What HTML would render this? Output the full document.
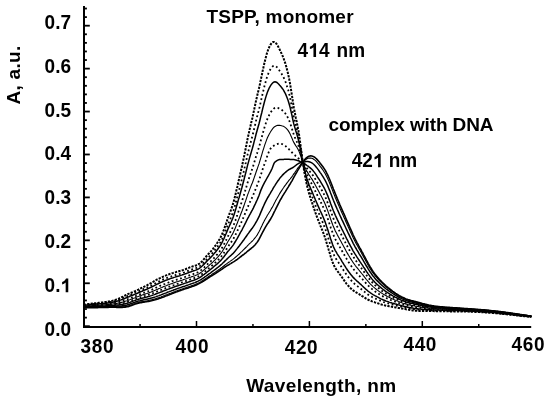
<!DOCTYPE html>
<html><head><meta charset="utf-8"><style>
html,body{margin:0;padding:0;background:#fff;}
body{width:550px;height:401px;overflow:hidden;position:relative;}
svg{position:absolute;left:0;top:0;filter:grayscale(1);}
text{font-family:"Liberation Sans",sans-serif;font-weight:bold;font-size:19px;fill:#000;}
</style></head><body>
<svg width="550" height="401" viewBox="0 0 550 401">
<g fill="#000">
<rect x="83" y="6" width="2" height="322"/>
<rect x="83" y="326" width="448.2" height="2"/>
<rect x="85" y="325.30" width="4.8" height="1.8"/><rect x="85" y="316.71" width="1.9" height="1.8"/><rect x="85" y="308.13" width="1.9" height="1.8"/><rect x="85" y="299.54" width="1.9" height="1.8"/><rect x="85" y="290.96" width="1.9" height="1.8"/><rect x="85" y="282.37" width="4.8" height="1.8"/><rect x="85" y="273.78" width="1.9" height="1.8"/><rect x="85" y="265.20" width="1.9" height="1.8"/><rect x="85" y="256.61" width="1.9" height="1.8"/><rect x="85" y="248.03" width="1.9" height="1.8"/><rect x="85" y="239.44" width="4.8" height="1.8"/><rect x="85" y="230.85" width="1.9" height="1.8"/><rect x="85" y="222.27" width="1.9" height="1.8"/><rect x="85" y="213.68" width="1.9" height="1.8"/><rect x="85" y="205.10" width="1.9" height="1.8"/><rect x="85" y="196.51" width="4.8" height="1.8"/><rect x="85" y="187.92" width="1.9" height="1.8"/><rect x="85" y="179.34" width="1.9" height="1.8"/><rect x="85" y="170.75" width="1.9" height="1.8"/><rect x="85" y="162.17" width="1.9" height="1.8"/><rect x="85" y="153.58" width="4.8" height="1.8"/><rect x="85" y="144.99" width="1.9" height="1.8"/><rect x="85" y="136.41" width="1.9" height="1.8"/><rect x="85" y="127.82" width="1.9" height="1.8"/><rect x="85" y="119.24" width="1.9" height="1.8"/><rect x="85" y="110.65" width="4.8" height="1.8"/><rect x="85" y="102.06" width="1.9" height="1.8"/><rect x="85" y="93.48" width="1.9" height="1.8"/><rect x="85" y="84.89" width="1.9" height="1.8"/><rect x="85" y="76.31" width="1.9" height="1.8"/><rect x="85" y="67.72" width="4.8" height="1.8"/><rect x="85" y="59.13" width="1.9" height="1.8"/><rect x="85" y="50.55" width="1.9" height="1.8"/><rect x="85" y="41.96" width="1.9" height="1.8"/><rect x="85" y="33.38" width="1.9" height="1.8"/><rect x="85" y="24.79" width="4.8" height="1.8"/><rect x="85" y="16.20" width="1.9" height="1.8"/><rect x="85" y="7.62" width="1.9" height="1.8"/><rect x="139.30" y="324" width="1.5" height="2"/><rect x="195.75" y="321" width="1.5" height="5"/><rect x="252.20" y="324" width="1.5" height="2"/><rect x="308.65" y="321" width="1.5" height="5"/><rect x="365.10" y="324" width="1.5" height="2"/><rect x="421.55" y="321" width="1.5" height="5"/><rect x="478.00" y="324" width="1.5" height="2"/>
</g>
<g>
<polyline points="83.6,304.7 84.5,304.6 85.5,304.5 86.4,304.4 87.4,304.2 88.3,304.1 89.3,304.0 90.2,303.9 91.1,303.8 92.1,303.6 93.0,303.5 94.0,303.4 94.9,303.3 95.9,303.2 96.8,303.0 97.7,302.9 98.7,302.8 99.6,302.7 100.6,302.6 101.5,302.5 102.5,302.4 103.4,302.3 104.3,302.1 105.3,302.0 106.2,301.9 107.2,301.8 108.1,301.6 109.1,301.4 110.0,301.3 110.9,301.1 111.9,300.9 112.8,300.6 113.8,300.4 114.7,300.1 115.7,299.8 116.6,299.4 117.5,299.1 118.5,298.7 119.4,298.3 120.4,297.9 121.3,297.4 122.3,297.0 123.2,296.5 124.1,296.0 125.1,295.5 126.0,295.0 127.0,294.6 127.9,294.1 128.9,293.7 129.8,293.3 130.7,292.9 131.7,292.5 132.6,292.2 133.6,291.8 134.5,291.4 135.5,291.0 136.4,290.6 137.3,290.1 138.3,289.7 139.2,289.2 140.2,288.7 141.1,288.2 142.1,287.7 143.0,287.3 143.9,286.8 144.9,286.3 145.8,285.9 146.8,285.4 147.7,284.9 148.7,284.4 149.6,283.9 150.5,283.3 151.5,282.8 152.4,282.2 153.4,281.7 154.3,281.1 155.3,280.6 156.2,280.0 157.1,279.5 158.1,279.0 159.0,278.6 160.0,278.1 160.9,277.6 161.9,277.2 162.8,276.8 163.7,276.4 164.7,276.0 165.6,275.6 166.6,275.2 167.5,274.8 168.5,274.5 169.4,274.1 170.3,273.8 171.3,273.5 172.2,273.2 173.2,272.9 174.1,272.6 175.1,272.4 176.0,272.1 176.9,271.8 177.9,271.6 178.8,271.3 179.8,271.0 180.7,270.8 181.7,270.5 182.6,270.2 183.5,269.9 184.5,269.5 185.4,269.2 186.4,268.8 187.3,268.5 188.3,268.1 189.2,267.7 190.1,267.3 191.1,267.0 192.0,266.6 193.0,266.3 193.9,266.1 194.9,265.8 195.8,265.5 196.7,265.1 197.7,264.7 198.6,264.1 199.6,263.5 200.5,262.8 201.4,261.9 202.4,260.9 203.3,259.8 204.3,258.7 205.2,257.6 206.2,256.5 207.1,255.5 208.0,254.5 209.0,253.4 209.9,252.4 210.9,251.3 211.8,250.2 212.8,249.1 213.7,247.9 214.6,246.6 215.6,245.3 216.5,243.9 217.5,242.5 218.4,241.1 219.4,239.6 220.3,237.9 221.2,236.1 222.2,234.0 223.1,231.7 224.1,229.2 225.0,226.5 226.0,223.8 226.9,221.0 227.8,218.3 228.8,215.7 229.7,213.2 230.7,210.7 231.6,208.1 232.6,205.3 233.5,202.2 234.4,198.8 235.4,195.0 236.3,190.8 237.3,186.7 238.2,182.5 239.2,178.5 240.1,174.5 241.0,170.5 242.0,166.3 242.9,161.9 243.9,157.4 244.8,152.7 245.8,148.0 246.7,143.3 247.6,138.6 248.6,134.3 249.5,130.0 250.5,125.9 251.4,121.9 252.4,117.9 253.3,113.7 254.2,109.4 255.2,104.8 256.1,100.4 257.1,96.2 258.0,92.3 259.0,88.3 259.9,84.2 260.8,79.7 261.8,75.2 262.7,70.7 263.7,66.3 264.6,62.1 265.6,58.3 266.5,54.8 267.4,51.8 268.4,49.1 269.3,46.9 270.3,45.1 271.2,43.7 272.2,42.6 273.1,42.0 274.0,41.9 275.0,42.3 275.9,43.1 276.9,44.4 277.8,45.9 278.8,47.7 279.7,49.6 280.6,51.6 281.6,53.6 282.5,55.7 283.5,58.1 284.4,60.7 285.4,63.6 286.3,66.8 287.2,70.3 288.2,74.2 289.1,78.6 290.1,83.8 291.0,89.6 292.0,95.7 292.9,101.8 293.8,107.4 294.8,112.5 295.7,117.2 296.7,121.7 297.6,126.5 298.6,131.7 299.5,137.6 300.4,144.3 301.4,151.6 302.3,158.8 303.3,165.4 304.2,171.3 305.2,176.6 306.1,181.3 307.0,185.6 308.0,189.4 308.9,192.9 309.9,196.1 310.8,199.1 311.8,201.9 312.7,204.7 313.6,207.4 314.6,210.2 315.5,212.9 316.5,215.6 317.4,218.1 318.4,220.6 319.3,222.9 320.2,225.3 321.2,227.6 322.1,229.9 323.1,232.3 324.0,234.9 325.0,237.5 325.9,240.4 326.8,243.5 327.8,246.6 328.7,249.8 329.7,253.0 330.6,256.2 331.6,259.2 332.5,261.9 333.4,264.3 334.4,266.3 335.3,268.0 336.3,269.5 337.2,270.8 338.2,272.0 339.1,273.2 340.0,274.5 341.0,275.8 341.9,277.2 342.9,278.6 343.8,279.9 344.8,281.3 345.7,282.6 346.6,283.8 347.6,284.9 348.5,286.0 349.5,287.0 350.4,288.0 351.4,288.9 352.3,289.7 353.2,290.4 354.2,291.1 355.1,291.7 356.1,292.3 357.0,292.9 358.0,293.5 358.9,294.0 359.8,294.6 360.8,295.2 361.7,295.8 362.7,296.4 363.6,297.0 364.6,297.6 365.5,298.2 366.4,298.8 367.4,299.3 368.3,299.8 369.3,300.2 370.2,300.6 371.2,301.0 372.1,301.4 373.0,301.7 374.0,302.0 374.9,302.4 375.9,302.7 376.8,303.0 377.8,303.3 378.7,303.6 379.6,303.9 380.6,304.2 381.5,304.5 382.5,304.8 383.4,305.0 384.4,305.3 385.3,305.5 386.2,305.7 387.2,305.9 388.1,306.1 389.1,306.3 390.0,306.4 391.0,306.6 391.9,306.7 392.8,306.9 393.8,307.1 394.7,307.2 395.7,307.4 396.6,307.6 397.6,307.7 398.5,307.9 399.4,308.1 400.4,308.2 401.3,308.4 402.3,308.6 403.2,308.7 404.2,308.9 405.1,309.1 406.0,309.3 407.0,309.4 407.9,309.6 408.9,309.8 409.8,309.9 410.8,310.1 411.7,310.2 412.6,310.4 413.6,310.5 414.5,310.6 415.5,310.7 416.4,310.8 417.4,310.8 418.3,310.9 419.2,311.0 420.2,311.0 421.1,311.0 422.1,311.0 423.0,311.1 423.9,311.1 424.9,311.1 425.8,311.1 426.8,311.1 427.7,311.1 428.7,311.1 429.6,311.1 430.5,311.1 431.5,311.1 432.4,311.1 433.4,311.1 434.3,311.2 435.3,311.2 436.2,311.2 437.1,311.2 438.1,311.2 439.0,311.2 440.0,311.2 440.9,311.2 441.9,311.3 442.8,311.3 443.7,311.3 444.7,311.3 445.6,311.3 446.6,311.3 447.5,311.3 448.5,311.3 449.4,311.4 450.3,311.4 451.3,311.4 452.2,311.4 453.2,311.4 454.1,311.4 455.1,311.4 456.0,311.4 456.9,311.4 457.9,311.4 458.8,311.5 459.8,311.5 460.7,311.5 461.7,311.5 462.6,311.5 463.5,311.5 464.5,311.6 465.4,311.6 466.4,311.6 467.3,311.6 468.3,311.6 469.2,311.7 470.1,311.7 471.1,311.7 472.0,311.8 473.0,311.8 473.9,311.8 474.9,311.9 475.8,311.9 476.7,312.0 477.7,312.0 478.6,312.1 479.6,312.1 480.5,312.2 481.5,312.2 482.4,312.3 483.3,312.3 484.3,312.4 485.2,312.5 486.2,312.5 487.1,312.6 488.1,312.6 489.0,312.7 489.9,312.8 490.9,312.9 491.8,312.9 492.8,313.0 493.7,313.1 494.7,313.2 495.6,313.2 496.5,313.3 497.5,313.4 498.4,313.5 499.4,313.6 500.3,313.7 501.3,313.8 502.2,313.9 503.1,314.0 504.1,314.0 505.0,314.1 506.0,314.2 506.9,314.3 507.9,314.4 508.8,314.5 509.7,314.6 510.7,314.7 511.6,314.8 512.6,314.9 513.5,315.0 514.5,315.1 515.4,315.3 516.3,315.4 517.3,315.5 518.2,315.6 519.2,315.7 520.1,315.8 521.1,315.9 522.0,316.0 522.9,316.1 523.9,316.2 524.8,316.3 525.8,316.4 526.7,316.5 527.7,316.6 528.6,316.6 529.5,316.7 530.5,316.8 531.4,316.9" fill="none" stroke="#000" stroke-width="2.0" stroke-dasharray="2.3 1.2"/>
<polyline points="83.6,305.1 84.5,305.0 85.5,304.9 86.4,304.8 87.4,304.7 88.3,304.6 89.3,304.5 90.2,304.4 91.1,304.3 92.1,304.2 93.0,304.1 94.0,304.0 94.9,303.9 95.9,303.8 96.8,303.7 97.7,303.6 98.7,303.5 99.6,303.4 100.6,303.3 101.5,303.2 102.5,303.1 103.4,303.0 104.3,302.9 105.3,302.8 106.2,302.7 107.2,302.5 108.1,302.4 109.1,302.3 110.0,302.1 110.9,301.9 111.9,301.8 112.8,301.6 113.8,301.3 114.7,301.1 115.7,300.8 116.6,300.6 117.5,300.2 118.5,299.9 119.4,299.6 120.4,299.2 121.3,298.8 122.3,298.4 123.2,298.0 124.1,297.6 125.1,297.2 126.0,296.7 127.0,296.3 127.9,295.9 128.9,295.5 129.8,295.1 130.7,294.7 131.7,294.3 132.6,294.0 133.6,293.6 134.5,293.2 135.5,292.8 136.4,292.4 137.3,292.0 138.3,291.6 139.2,291.1 140.2,290.7 141.1,290.2 142.1,289.8 143.0,289.4 143.9,288.9 144.9,288.5 145.8,288.1 146.8,287.7 147.7,287.2 148.7,286.8 149.6,286.3 150.5,285.8 151.5,285.3 152.4,284.8 153.4,284.3 154.3,283.8 155.3,283.3 156.2,282.8 157.1,282.3 158.1,281.8 159.0,281.4 160.0,280.9 160.9,280.5 161.9,280.1 162.8,279.6 163.7,279.2 164.7,278.8 165.6,278.5 166.6,278.1 167.5,277.7 168.5,277.4 169.4,277.0 170.3,276.7 171.3,276.4 172.2,276.1 173.2,275.8 174.1,275.5 175.1,275.2 176.0,274.9 176.9,274.6 177.9,274.3 178.8,274.1 179.8,273.8 180.7,273.5 181.7,273.2 182.6,272.9 183.5,272.6 184.5,272.3 185.4,271.9 186.4,271.6 187.3,271.2 188.3,270.8 189.2,270.5 190.1,270.1 191.1,269.8 192.0,269.4 193.0,269.1 193.9,268.8 194.9,268.5 195.8,268.2 196.7,267.8 197.7,267.4 198.6,266.9 199.6,266.3 200.5,265.6 201.4,264.7 202.4,263.8 203.3,262.8 204.3,261.8 205.2,260.8 206.2,259.8 207.1,258.8 208.0,257.8 209.0,256.8 209.9,255.8 210.9,254.8 211.8,253.8 212.8,252.7 213.7,251.6 214.6,250.4 215.6,249.2 216.5,248.0 217.5,246.7 218.4,245.4 219.4,243.9 220.3,242.4 221.2,240.8 222.2,238.9 223.1,236.9 224.1,234.6 225.0,232.2 226.0,229.7 226.9,227.3 227.8,224.9 228.8,222.6 229.7,220.4 230.7,218.1 231.6,215.8 232.6,213.3 233.5,210.6 234.4,207.5 235.4,204.2 236.3,200.5 237.3,196.8 238.2,193.2 239.2,189.6 240.1,186.1 241.0,182.5 242.0,178.8 242.9,174.9 243.9,170.9 244.8,166.8 245.8,162.7 246.7,158.5 247.6,154.4 248.6,150.5 249.5,146.8 250.5,143.1 251.4,139.6 252.4,136.0 253.3,132.3 254.2,128.5 255.2,124.4 256.1,120.4 257.1,116.6 258.0,113.1 259.0,109.5 259.9,105.7 260.8,101.6 261.8,97.4 262.7,93.3 263.7,89.3 264.6,85.4 265.6,81.9 266.5,78.7 267.4,75.9 268.4,73.4 269.3,71.3 270.3,69.5 271.2,68.0 272.2,66.9 273.1,66.1 274.0,65.8 275.0,65.8 275.9,66.3 276.9,67.1 277.8,68.2 278.8,69.5 279.7,70.9 280.6,72.3 281.6,73.8 282.5,75.4 283.5,77.2 284.4,79.2 285.4,81.5 286.3,84.0 287.2,86.9 288.2,90.0 289.1,93.6 290.1,97.8 291.0,102.6 292.0,107.6 292.9,112.6 293.8,117.2 294.8,121.4 295.7,125.1 296.7,128.8 297.6,132.7 298.6,136.9 299.5,141.8 300.4,147.3 301.4,153.4 302.3,159.4 303.3,164.9 304.2,169.8 305.2,174.2 306.1,178.1 307.0,181.6 308.0,184.8 308.9,187.8 309.9,190.5 310.8,193.0 311.8,195.5 312.7,197.9 313.6,200.3 314.6,202.8 315.5,205.3 316.5,207.7 317.4,210.0 318.4,212.2 319.3,214.4 320.2,216.6 321.2,218.8 322.1,221.0 323.1,223.2 324.0,225.6 325.0,228.1 325.9,230.8 326.8,233.6 327.8,236.6 328.7,239.7 329.7,242.7 330.6,245.8 331.6,248.7 332.5,251.4 333.4,253.8 334.4,255.8 335.3,257.6 336.3,259.2 337.2,260.7 338.2,262.0 339.1,263.4 340.0,264.8 341.0,266.2 341.9,267.7 342.9,269.2 343.8,270.7 344.8,272.1 345.7,273.5 346.6,274.9 347.6,276.2 348.5,277.4 349.5,278.6 350.4,279.7 351.4,280.7 352.3,281.7 353.2,282.7 354.2,283.5 355.1,284.3 356.1,285.1 357.0,285.9 358.0,286.6 358.9,287.3 359.8,288.0 360.8,288.8 361.7,289.5 362.7,290.3 363.6,291.1 364.6,291.9 365.5,292.6 366.4,293.4 367.4,294.1 368.3,294.7 369.3,295.4 370.2,295.9 371.2,296.5 372.1,297.0 373.0,297.5 374.0,297.9 374.9,298.4 375.9,298.8 376.8,299.3 377.8,299.7 378.7,300.1 379.6,300.5 380.6,300.9 381.5,301.3 382.5,301.7 383.4,302.0 384.4,302.3 385.3,302.6 386.2,302.9 387.2,303.2 388.1,303.5 389.1,303.7 390.0,304.0 391.0,304.2 391.9,304.5 392.8,304.7 393.8,305.0 394.7,305.2 395.7,305.4 396.6,305.6 397.6,305.9 398.5,306.1 399.4,306.3 400.4,306.5 401.3,306.8 402.3,307.0 403.2,307.2 404.2,307.4 405.1,307.6 406.0,307.8 407.0,308.0 407.9,308.2 408.9,308.4 409.8,308.6 410.8,308.7 411.7,308.9 412.6,309.0 413.6,309.2 414.5,309.3 415.5,309.4 416.4,309.5 417.4,309.6 418.3,309.7 419.2,309.8 420.2,309.9 421.1,309.9 422.1,310.0 423.0,310.0 423.9,310.1 424.9,310.1 425.8,310.1 426.8,310.2 427.7,310.2 428.7,310.3 429.6,310.3 430.5,310.3 431.5,310.4 432.4,310.4 433.4,310.4 434.3,310.4 435.3,310.5 436.2,310.5 437.1,310.5 438.1,310.6 439.0,310.6 440.0,310.6 440.9,310.6 441.9,310.6 442.8,310.7 443.7,310.7 444.7,310.7 445.6,310.7 446.6,310.7 447.5,310.8 448.5,310.8 449.4,310.8 450.3,310.8 451.3,310.8 452.2,310.9 453.2,310.9 454.1,310.9 455.1,310.9 456.0,310.9 456.9,310.9 457.9,311.0 458.8,311.0 459.8,311.0 460.7,311.0 461.7,311.0 462.6,311.1 463.5,311.1 464.5,311.1 465.4,311.1 466.4,311.2 467.3,311.2 468.3,311.2 469.2,311.3 470.1,311.3 471.1,311.3 472.0,311.4 473.0,311.4 473.9,311.5 474.9,311.5 475.8,311.6 476.7,311.6 477.7,311.6 478.6,311.7 479.6,311.8 480.5,311.8 481.5,311.9 482.4,311.9 483.3,312.0 484.3,312.0 485.2,312.1 486.2,312.2 487.1,312.2 488.1,312.3 489.0,312.4 489.9,312.5 490.9,312.5 491.8,312.6 492.8,312.7 493.7,312.8 494.7,312.9 495.6,312.9 496.5,313.0 497.5,313.1 498.4,313.2 499.4,313.3 500.3,313.4 501.3,313.5 502.2,313.6 503.1,313.7 504.1,313.8 505.0,313.9 506.0,314.0 506.9,314.1 507.9,314.2 508.8,314.3 509.7,314.4 510.7,314.5 511.6,314.6 512.6,314.7 513.5,314.8 514.5,314.9 515.4,315.0 516.3,315.2 517.3,315.3 518.2,315.4 519.2,315.5 520.1,315.6 521.1,315.7 522.0,315.8 522.9,315.9 523.9,316.0 524.8,316.1 525.8,316.2 526.7,316.3 527.7,316.4 528.6,316.5 529.5,316.6 530.5,316.7 531.4,316.8" fill="none" stroke="#000" stroke-width="1.8" stroke-dasharray="1.8 2.6"/>
<polyline points="83.6,305.4 84.5,305.3 85.5,305.2 86.4,305.1 87.4,305.0 88.3,304.9 89.3,304.8 90.2,304.7 91.1,304.6 92.1,304.6 93.0,304.5 94.0,304.4 94.9,304.3 95.9,304.2 96.8,304.1 97.7,304.0 98.7,303.9 99.6,303.8 100.6,303.8 101.5,303.7 102.5,303.6 103.4,303.5 104.3,303.4 105.3,303.3 106.2,303.2 107.2,303.1 108.1,303.0 109.1,302.8 110.0,302.7 110.9,302.5 111.9,302.4 112.8,302.2 113.8,302.0 114.7,301.8 115.7,301.6 116.6,301.3 117.5,301.0 118.5,300.7 119.4,300.4 120.4,300.1 121.3,299.8 122.3,299.4 123.2,299.0 124.1,298.7 125.1,298.3 126.0,297.9 127.0,297.5 127.9,297.1 128.9,296.7 129.8,296.3 130.7,295.9 131.7,295.5 132.6,295.2 133.6,294.8 134.5,294.4 135.5,294.1 136.4,293.7 137.3,293.3 138.3,292.8 139.2,292.4 140.2,292.0 141.1,291.6 142.1,291.2 143.0,290.8 143.9,290.4 144.9,290.0 145.8,289.6 146.8,289.2 147.7,288.8 148.7,288.4 149.6,287.9 150.5,287.5 151.5,287.0 152.4,286.5 153.4,286.1 154.3,285.6 155.3,285.1 156.2,284.6 157.1,284.1 158.1,283.7 159.0,283.3 160.0,282.8 160.9,282.4 161.9,282.0 162.8,281.6 163.7,281.2 164.7,280.8 165.6,280.4 166.6,280.0 167.5,279.7 168.5,279.3 169.4,279.0 170.3,278.6 171.3,278.3 172.2,278.0 173.2,277.7 174.1,277.4 175.1,277.1 176.0,276.8 176.9,276.5 177.9,276.2 178.8,276.0 179.8,275.7 180.7,275.4 181.7,275.1 182.6,274.8 183.5,274.5 184.5,274.1 185.4,273.8 186.4,273.5 187.3,273.1 188.3,272.7 189.2,272.4 190.1,272.0 191.1,271.7 192.0,271.3 193.0,271.0 193.9,270.7 194.9,270.4 195.8,270.1 196.7,269.7 197.7,269.3 198.6,268.8 199.6,268.2 200.5,267.5 201.4,266.7 202.4,265.8 203.3,264.9 204.3,263.9 205.2,262.9 206.2,261.9 207.1,261.0 208.0,260.0 209.0,259.1 209.9,258.2 210.9,257.2 211.8,256.2 212.8,255.2 213.7,254.1 214.6,253.0 215.6,251.9 216.5,250.7 217.5,249.5 218.4,248.2 219.4,246.9 220.3,245.5 221.2,244.0 222.2,242.2 223.1,240.3 224.1,238.2 225.0,236.0 226.0,233.8 226.9,231.6 227.8,229.4 228.8,227.2 229.7,225.2 230.7,223.2 231.6,221.0 232.6,218.8 233.5,216.3 234.4,213.5 235.4,210.4 236.3,207.1 237.3,203.7 238.2,200.4 239.2,197.2 240.1,194.0 241.0,190.7 242.0,187.3 242.9,183.8 243.9,180.1 244.8,176.4 245.8,172.6 246.7,168.8 247.6,165.1 248.6,161.6 249.5,158.1 250.5,154.8 251.4,151.6 252.4,148.3 253.3,145.0 254.2,141.4 255.2,137.7 256.1,134.0 257.1,130.5 258.0,127.2 259.0,123.8 259.9,120.2 260.8,116.4 261.8,112.5 262.7,108.6 263.7,104.8 264.6,101.2 265.6,97.9 266.5,94.9 267.4,92.2 268.4,89.9 269.3,87.8 270.3,86.1 271.2,84.6 272.2,83.4 273.1,82.5 274.0,82.0 275.0,81.8 275.9,82.0 276.9,82.5 277.8,83.3 278.8,84.2 279.7,85.3 280.6,86.3 281.6,87.5 282.5,88.7 283.5,90.2 284.4,91.8 285.4,93.6 286.3,95.7 287.2,98.1 288.2,100.7 289.1,103.8 290.1,107.3 291.0,111.4 292.0,115.7 292.9,120.0 293.8,123.9 294.8,127.4 295.7,130.5 296.7,133.6 297.6,136.9 298.6,140.5 299.5,144.6 300.4,149.4 301.4,154.6 302.3,159.8 303.3,164.5 304.2,168.7 305.2,172.5 306.1,175.9 307.0,178.9 308.0,181.7 308.9,184.3 309.9,186.7 310.8,188.9 311.8,191.1 312.7,193.3 313.6,195.5 314.6,197.7 315.5,200.0 316.5,202.3 317.4,204.4 318.4,206.6 319.3,208.6 320.2,210.7 321.2,212.8 322.1,214.8 323.1,217.0 324.0,219.2 325.0,221.6 325.9,224.2 326.8,227.0 327.8,229.8 328.7,232.8 329.7,235.8 330.6,238.7 331.6,241.5 332.5,244.2 333.4,246.6 334.4,248.7 335.3,250.6 336.3,252.2 337.2,253.8 338.2,255.3 339.1,256.7 340.0,258.2 341.0,259.7 341.9,261.3 342.9,262.8 343.8,264.4 344.8,265.9 345.7,267.4 346.6,268.8 347.6,270.2 348.5,271.5 349.5,272.8 350.4,274.1 351.4,275.2 352.3,276.3 353.2,277.4 354.2,278.4 355.1,279.3 356.1,280.2 357.0,281.1 358.0,281.9 358.9,282.7 359.8,283.6 360.8,284.4 361.7,285.3 362.7,286.2 363.6,287.1 364.6,288.0 365.5,288.9 366.4,289.7 367.4,290.5 368.3,291.3 369.3,292.0 370.2,292.7 371.2,293.4 372.1,294.0 373.0,294.6 374.0,295.2 374.9,295.7 375.9,296.2 376.8,296.7 377.8,297.2 378.7,297.7 379.6,298.2 380.6,298.7 381.5,299.1 382.5,299.5 383.4,300.0 384.4,300.3 385.3,300.7 386.2,301.1 387.2,301.4 388.1,301.7 389.1,302.1 390.0,302.4 391.0,302.7 391.9,303.0 392.8,303.2 393.8,303.5 394.7,303.8 395.7,304.1 396.6,304.3 397.6,304.6 398.5,304.9 399.4,305.1 400.4,305.4 401.3,305.6 402.3,305.9 403.2,306.1 404.2,306.4 405.1,306.6 406.0,306.8 407.0,307.0 407.9,307.3 408.9,307.5 409.8,307.6 410.8,307.8 411.7,308.0 412.6,308.1 413.6,308.3 414.5,308.4 415.5,308.6 416.4,308.7 417.4,308.8 418.3,308.9 419.2,309.0 420.2,309.1 421.1,309.2 422.1,309.2 423.0,309.3 423.9,309.4 424.9,309.4 425.8,309.5 426.8,309.6 427.7,309.6 428.7,309.7 429.6,309.7 430.5,309.8 431.5,309.8 432.4,309.9 433.4,309.9 434.3,310.0 435.3,310.0 436.2,310.0 437.1,310.1 438.1,310.1 439.0,310.1 440.0,310.2 440.9,310.2 441.9,310.2 442.8,310.3 443.7,310.3 444.7,310.3 445.6,310.3 446.6,310.4 447.5,310.4 448.5,310.4 449.4,310.4 450.3,310.5 451.3,310.5 452.2,310.5 453.2,310.5 454.1,310.5 455.1,310.6 456.0,310.6 456.9,310.6 457.9,310.6 458.8,310.7 459.8,310.7 460.7,310.7 461.7,310.7 462.6,310.8 463.5,310.8 464.5,310.8 465.4,310.9 466.4,310.9 467.3,310.9 468.3,311.0 469.2,311.0 470.1,311.0 471.1,311.1 472.0,311.1 473.0,311.2 473.9,311.2 474.9,311.2 475.8,311.3 476.7,311.3 477.7,311.4 478.6,311.5 479.6,311.5 480.5,311.6 481.5,311.6 482.4,311.7 483.3,311.8 484.3,311.8 485.2,311.9 486.2,311.9 487.1,312.0 488.1,312.1 489.0,312.2 489.9,312.2 490.9,312.3 491.8,312.4 492.8,312.5 493.7,312.6 494.7,312.6 495.6,312.7 496.5,312.8 497.5,312.9 498.4,313.0 499.4,313.1 500.3,313.2 501.3,313.3 502.2,313.4 503.1,313.5 504.1,313.6 505.0,313.7 506.0,313.8 506.9,313.9 507.9,314.0 508.8,314.1 509.7,314.2 510.7,314.3 511.6,314.5 512.6,314.6 513.5,314.7 514.5,314.8 515.4,314.9 516.3,315.0 517.3,315.1 518.2,315.2 519.2,315.3 520.1,315.5 521.1,315.6 522.0,315.7 522.9,315.8 523.9,315.9 524.8,316.0 525.8,316.1 526.7,316.2 527.7,316.3 528.6,316.4 529.5,316.5 530.5,316.6 531.4,316.7" fill="none" stroke="#000" stroke-width="1.5"/>
<polyline points="83.6,305.8 84.5,305.8 85.5,305.7 86.4,305.6 87.4,305.5 88.3,305.5 89.3,305.4 90.2,305.3 91.1,305.2 92.1,305.2 93.0,305.1 94.0,305.0 94.9,305.0 95.9,304.9 96.8,304.8 97.7,304.7 98.7,304.7 99.6,304.6 100.6,304.5 101.5,304.4 102.5,304.4 103.4,304.3 104.3,304.2 105.3,304.1 106.2,304.0 107.2,304.0 108.1,303.9 109.1,303.7 110.0,303.6 110.9,303.5 111.9,303.4 112.8,303.2 113.8,303.1 114.7,302.9 115.7,302.7 116.6,302.5 117.5,302.3 118.5,302.1 119.4,301.8 120.4,301.6 121.3,301.3 122.3,301.0 123.2,300.7 124.1,300.4 125.1,300.1 126.0,299.7 127.0,299.4 127.9,299.0 128.9,298.6 129.8,298.3 130.7,297.9 131.7,297.5 132.6,297.2 133.6,296.8 134.5,296.4 135.5,296.1 136.4,295.7 137.3,295.3 138.3,294.9 139.2,294.6 140.2,294.2 141.1,293.8 142.1,293.5 143.0,293.1 143.9,292.8 144.9,292.4 145.8,292.1 146.8,291.7 147.7,291.4 148.7,291.0 149.6,290.6 150.5,290.2 151.5,289.8 152.4,289.4 153.4,288.9 154.3,288.5 155.3,288.1 156.2,287.6 157.1,287.2 158.1,286.8 159.0,286.4 160.0,285.9 160.9,285.5 161.9,285.1 162.8,284.8 163.7,284.4 164.7,284.0 165.6,283.6 166.6,283.2 167.5,282.9 168.5,282.5 169.4,282.1 170.3,281.8 171.3,281.5 172.2,281.1 173.2,280.8 174.1,280.5 175.1,280.2 176.0,279.9 176.9,279.6 177.9,279.3 178.8,279.0 179.8,278.7 180.7,278.4 181.7,278.1 182.6,277.8 183.5,277.5 184.5,277.2 185.4,276.8 186.4,276.5 187.3,276.1 188.3,275.8 189.2,275.4 190.1,275.1 191.1,274.8 192.0,274.4 193.0,274.1 193.9,273.8 194.9,273.5 195.8,273.1 196.7,272.8 197.7,272.3 198.6,271.8 199.6,271.3 200.5,270.6 201.4,269.9 202.4,269.0 203.3,268.2 204.3,267.3 205.2,266.4 206.2,265.5 207.1,264.6 208.0,263.7 209.0,262.8 209.9,262.0 210.9,261.1 211.8,260.2 212.8,259.2 213.7,258.3 214.6,257.3 215.6,256.2 216.5,255.2 217.5,254.1 218.4,253.0 219.4,251.8 220.3,250.5 221.2,249.2 222.2,247.6 223.1,246.0 224.1,244.2 225.0,242.3 226.0,240.4 226.9,238.5 227.8,236.6 228.8,234.8 229.7,233.1 230.7,231.3 231.6,229.5 232.6,227.6 233.5,225.5 234.4,223.2 235.4,220.6 236.3,217.8 237.3,215.0 238.2,212.2 239.2,209.5 240.1,206.8 241.0,204.0 242.0,201.2 242.9,198.2 243.9,195.2 244.8,192.0 245.8,188.9 246.7,185.7 247.6,182.6 248.6,179.6 249.5,176.7 250.5,173.9 251.4,171.1 252.4,168.4 253.3,165.6 254.2,162.6 255.2,159.4 256.1,156.2 257.1,153.2 258.0,150.2 259.0,147.2 259.9,144.0 260.8,140.6 261.8,137.1 262.7,133.6 263.7,130.2 264.6,127.0 265.6,124.0 266.5,121.3 267.4,118.9 268.4,116.7 269.3,114.8 270.3,113.1 271.2,111.6 272.2,110.3 273.1,109.2 274.0,108.4 275.0,107.9 275.9,107.6 276.9,107.7 277.8,107.9 278.8,108.3 279.7,108.7 280.6,109.2 281.6,109.8 282.5,110.5 283.5,111.3 284.4,112.3 285.4,113.5 286.3,114.9 287.2,116.4 288.2,118.2 289.1,120.3 290.1,122.9 291.0,125.8 292.0,128.9 292.9,131.9 293.8,134.7 294.8,137.2 295.7,139.3 296.7,141.5 297.6,143.7 298.6,146.3 299.5,149.2 300.4,152.8 301.4,156.6 302.3,160.4 303.3,163.9 304.2,167.0 305.2,169.8 306.1,172.3 307.0,174.6 308.0,176.7 308.9,178.6 309.9,180.4 310.8,182.2 311.8,184.0 312.7,185.8 313.6,187.6 314.6,189.5 315.5,191.5 316.5,193.5 317.4,195.4 318.4,197.3 319.3,199.2 320.2,201.1 321.2,203.0 322.1,204.9 323.1,206.9 324.0,208.9 325.0,211.2 325.9,213.5 326.8,216.1 327.8,218.8 328.7,221.5 329.7,224.4 330.6,227.2 331.6,229.9 332.5,232.5 333.4,234.9 334.4,237.1 335.3,239.1 336.3,240.9 337.2,242.6 338.2,244.2 339.1,245.8 340.0,247.4 341.0,249.1 341.9,250.8 342.9,252.4 343.8,254.1 344.8,255.7 345.7,257.4 346.6,258.9 347.6,260.5 348.5,262.0 349.5,263.5 350.4,264.9 351.4,266.2 352.3,267.5 353.2,268.8 354.2,270.0 355.1,271.1 356.1,272.2 357.0,273.3 358.0,274.3 358.9,275.3 359.8,276.3 360.8,277.4 361.7,278.4 362.7,279.5 363.6,280.6 364.6,281.6 365.5,282.7 366.4,283.7 367.4,284.7 368.3,285.7 369.3,286.6 370.2,287.5 371.2,288.3 372.1,289.1 373.0,289.9 374.0,290.6 374.9,291.3 375.9,292.0 376.8,292.6 377.8,293.2 378.7,293.8 379.6,294.4 380.6,295.0 381.5,295.6 382.5,296.1 383.4,296.6 384.4,297.1 385.3,297.6 386.2,298.0 387.2,298.5 388.1,298.9 389.1,299.3 390.0,299.7 391.0,300.1 391.9,300.4 392.8,300.8 393.8,301.2 394.7,301.5 395.7,301.9 396.6,302.2 397.6,302.6 398.5,302.9 399.4,303.2 400.4,303.5 401.3,303.8 402.3,304.1 403.2,304.4 404.2,304.7 405.1,304.9 406.0,305.2 407.0,305.5 407.9,305.7 408.9,305.9 409.8,306.1 410.8,306.3 411.7,306.5 412.6,306.7 413.6,306.8 414.5,307.0 415.5,307.2 416.4,307.3 417.4,307.4 418.3,307.6 419.2,307.7 420.2,307.8 421.1,307.9 422.1,308.1 423.0,308.2 423.9,308.3 424.9,308.4 425.8,308.5 426.8,308.6 427.7,308.7 428.7,308.7 429.6,308.8 430.5,308.9 431.5,309.0 432.4,309.0 433.4,309.1 434.3,309.2 435.3,309.2 436.2,309.3 437.1,309.3 438.1,309.4 439.0,309.4 440.0,309.5 440.9,309.5 441.9,309.5 442.8,309.6 443.7,309.6 444.7,309.7 445.6,309.7 446.6,309.7 447.5,309.8 448.5,309.8 449.4,309.8 450.3,309.9 451.3,309.9 452.2,309.9 453.2,309.9 454.1,310.0 455.1,310.0 456.0,310.0 456.9,310.1 457.9,310.1 458.8,310.1 459.8,310.2 460.7,310.2 461.7,310.2 462.6,310.3 463.5,310.3 464.5,310.3 465.4,310.4 466.4,310.4 467.3,310.5 468.3,310.5 469.2,310.5 470.1,310.6 471.1,310.6 472.0,310.7 473.0,310.7 473.9,310.8 474.9,310.8 475.8,310.9 476.7,310.9 477.7,311.0 478.6,311.1 479.6,311.1 480.5,311.2 481.5,311.2 482.4,311.3 483.3,311.4 484.3,311.4 485.2,311.5 486.2,311.6 487.1,311.6 488.1,311.7 489.0,311.8 489.9,311.9 490.9,312.0 491.8,312.0 492.8,312.1 493.7,312.2 494.7,312.3 495.6,312.4 496.5,312.5 497.5,312.6 498.4,312.7 499.4,312.8 500.3,312.9 501.3,313.0 502.2,313.1 503.1,313.2 504.1,313.3 505.0,313.4 506.0,313.5 506.9,313.6 507.9,313.7 508.8,313.9 509.7,314.0 510.7,314.1 511.6,314.2 512.6,314.3 513.5,314.4 514.5,314.6 515.4,314.7 516.3,314.8 517.3,314.9 518.2,315.0 519.2,315.1 520.1,315.3 521.1,315.4 522.0,315.5 522.9,315.6 523.9,315.7 524.8,315.8 525.8,315.9 526.7,316.1 527.7,316.2 528.6,316.3 529.5,316.4 530.5,316.5 531.4,316.6" fill="none" stroke="#000" stroke-width="1.8" stroke-dasharray="1.8 2.6"/>
<polyline points="83.6,306.1 84.5,306.1 85.5,306.0 86.4,306.0 87.4,305.9 88.3,305.8 89.3,305.8 90.2,305.7 91.1,305.7 92.1,305.6 93.0,305.5 94.0,305.5 94.9,305.4 95.9,305.4 96.8,305.3 97.7,305.2 98.7,305.2 99.6,305.1 100.6,305.1 101.5,305.0 102.5,304.9 103.4,304.9 104.3,304.8 105.3,304.7 106.2,304.7 107.2,304.6 108.1,304.5 109.1,304.4 110.0,304.3 110.9,304.2 111.9,304.1 112.8,304.0 113.8,303.8 114.7,303.7 115.7,303.6 116.6,303.4 117.5,303.2 118.5,303.0 119.4,302.9 120.4,302.6 121.3,302.4 122.3,302.2 123.2,301.9 124.1,301.6 125.1,301.3 126.0,301.0 127.0,300.7 127.9,300.4 128.9,300.0 129.8,299.7 130.7,299.3 131.7,299.0 132.6,298.6 133.6,298.2 134.5,297.9 135.5,297.5 136.4,297.1 137.3,296.8 138.3,296.4 139.2,296.1 140.2,295.7 141.1,295.4 142.1,295.1 143.0,294.8 143.9,294.5 144.9,294.2 145.8,293.8 146.8,293.5 147.7,293.2 148.7,292.9 149.6,292.5 150.5,292.2 151.5,291.8 152.4,291.4 153.4,291.0 154.3,290.6 155.3,290.2 156.2,289.8 157.1,289.4 158.1,289.0 159.0,288.6 160.0,288.2 160.9,287.8 161.9,287.4 162.8,287.0 163.7,286.6 164.7,286.2 165.6,285.9 166.6,285.5 167.5,285.1 168.5,284.8 169.4,284.4 170.3,284.1 171.3,283.7 172.2,283.4 173.2,283.1 174.1,282.7 175.1,282.4 176.0,282.1 176.9,281.8 177.9,281.5 178.8,281.2 179.8,280.9 180.7,280.6 181.7,280.3 182.6,280.0 183.5,279.6 184.5,279.3 185.4,279.0 186.4,278.7 187.3,278.3 188.3,278.0 189.2,277.6 190.1,277.3 191.1,277.0 192.0,276.6 193.0,276.3 193.9,276.0 194.9,275.7 195.8,275.3 196.7,274.9 197.7,274.5 198.6,274.0 199.6,273.5 200.5,272.8 201.4,272.1 202.4,271.4 203.3,270.5 204.3,269.7 205.2,268.8 206.2,268.0 207.1,267.1 208.0,266.3 209.0,265.5 209.9,264.7 210.9,263.8 211.8,263.0 212.8,262.1 213.7,261.2 214.6,260.3 215.6,259.3 216.5,258.4 217.5,257.4 218.4,256.3 219.4,255.2 220.3,254.1 221.2,252.8 222.2,251.5 223.1,250.0 224.1,248.4 225.0,246.8 226.0,245.1 226.9,243.4 227.8,241.8 228.8,240.2 229.7,238.7 230.7,237.2 231.6,235.6 232.6,233.9 233.5,232.1 234.4,230.0 235.4,227.8 236.3,225.4 237.3,223.0 238.2,220.6 239.2,218.2 240.1,215.9 241.0,213.5 242.0,211.0 242.9,208.5 243.9,205.8 244.8,203.1 245.8,200.4 246.7,197.6 247.6,194.9 248.6,192.4 249.5,189.9 250.5,187.4 251.4,185.0 252.4,182.7 253.3,180.2 254.2,177.6 255.2,174.8 256.1,172.0 257.1,169.3 258.0,166.6 259.0,163.9 259.9,160.9 260.8,157.8 261.8,154.6 262.7,151.4 263.7,148.3 264.6,145.3 265.6,142.6 266.5,140.1 267.4,137.8 268.4,135.8 269.3,133.9 270.3,132.3 271.2,130.7 272.2,129.4 273.1,128.2 274.0,127.2 275.0,126.4 275.9,125.9 276.9,125.5 277.8,125.4 278.8,125.4 279.7,125.4 280.6,125.5 281.6,125.7 282.5,126.0 283.5,126.3 284.4,126.9 285.4,127.6 286.3,128.4 287.2,129.4 288.2,130.6 289.1,132.1 290.1,133.9 291.0,136.0 292.0,138.3 292.9,140.5 293.8,142.4 294.8,144.1 295.7,145.6 296.7,147.0 297.6,148.6 298.6,150.4 299.5,152.5 300.4,155.1 301.4,158.0 302.3,160.9 303.3,163.5 304.2,165.8 305.2,167.9 306.1,169.7 307.0,171.4 308.0,173.1 308.9,174.6 309.9,176.0 310.8,177.5 311.8,178.9 312.7,180.4 313.6,182.0 314.6,183.7 315.5,185.5 316.5,187.2 317.4,189.0 318.4,190.8 319.3,192.5 320.2,194.3 321.2,196.0 322.1,197.8 323.1,199.7 324.0,201.6 325.0,203.7 325.9,206.0 326.8,208.4 327.8,210.9 328.7,213.6 329.7,216.3 330.6,219.0 331.6,221.7 332.5,224.3 333.4,226.6 334.4,228.8 335.3,230.9 336.3,232.8 337.2,234.6 338.2,236.4 339.1,238.1 340.0,239.8 341.0,241.6 341.9,243.3 342.9,245.1 343.8,246.8 344.8,248.6 345.7,250.3 346.6,251.9 347.6,253.6 348.5,255.2 349.5,256.8 350.4,258.4 351.4,259.9 352.3,261.3 353.2,262.7 354.2,264.0 355.1,265.3 356.1,266.6 357.0,267.7 358.0,268.9 358.9,270.0 359.8,271.2 360.8,272.3 361.7,273.5 362.7,274.7 363.6,275.9 364.6,277.1 365.5,278.3 366.4,279.5 367.4,280.6 368.3,281.7 369.3,282.8 370.2,283.8 371.2,284.8 372.1,285.7 373.0,286.6 374.0,287.4 374.9,288.2 375.9,289.0 376.8,289.7 377.8,290.4 378.7,291.1 379.6,291.8 380.6,292.4 381.5,293.0 382.5,293.6 383.4,294.2 384.4,294.8 385.3,295.3 386.2,295.8 387.2,296.4 388.1,296.8 389.1,297.3 390.0,297.8 391.0,298.2 391.9,298.7 392.8,299.1 393.8,299.5 394.7,299.9 395.7,300.3 396.6,300.7 397.6,301.1 398.5,301.5 399.4,301.8 400.4,302.2 401.3,302.5 402.3,302.9 403.2,303.2 404.2,303.5 405.1,303.8 406.0,304.1 407.0,304.3 407.9,304.6 408.9,304.8 409.8,305.0 410.8,305.3 411.7,305.5 412.6,305.6 413.6,305.8 414.5,306.0 415.5,306.2 416.4,306.3 417.4,306.5 418.3,306.6 419.2,306.8 420.2,306.9 421.1,307.1 422.1,307.2 423.0,307.4 423.9,307.5 424.9,307.6 425.8,307.7 426.8,307.9 427.7,308.0 428.7,308.1 429.6,308.2 430.5,308.3 431.5,308.4 432.4,308.5 433.4,308.5 434.3,308.6 435.3,308.7 436.2,308.7 437.1,308.8 438.1,308.9 439.0,308.9 440.0,309.0 440.9,309.0 441.9,309.1 442.8,309.1 443.7,309.2 444.7,309.2 445.6,309.2 446.6,309.3 447.5,309.3 448.5,309.4 449.4,309.4 450.3,309.4 451.3,309.5 452.2,309.5 453.2,309.5 454.1,309.6 455.1,309.6 456.0,309.7 456.9,309.7 457.9,309.7 458.8,309.8 459.8,309.8 460.7,309.8 461.7,309.9 462.6,309.9 463.5,310.0 464.5,310.0 465.4,310.0 466.4,310.1 467.3,310.1 468.3,310.2 469.2,310.2 470.1,310.3 471.1,310.3 472.0,310.4 473.0,310.4 473.9,310.5 474.9,310.5 475.8,310.6 476.7,310.6 477.7,310.7 478.6,310.8 479.6,310.8 480.5,310.9 481.5,311.0 482.4,311.0 483.3,311.1 484.3,311.2 485.2,311.2 486.2,311.3 487.1,311.4 488.1,311.5 489.0,311.5 489.9,311.6 490.9,311.7 491.8,311.8 492.8,311.9 493.7,312.0 494.7,312.1 495.6,312.2 496.5,312.2 497.5,312.3 498.4,312.4 499.4,312.5 500.3,312.6 501.3,312.8 502.2,312.9 503.1,313.0 504.1,313.1 505.0,313.2 506.0,313.3 506.9,313.4 507.9,313.5 508.8,313.7 509.7,313.8 510.7,313.9 511.6,314.0 512.6,314.1 513.5,314.3 514.5,314.4 515.4,314.5 516.3,314.6 517.3,314.8 518.2,314.9 519.2,315.0 520.1,315.1 521.1,315.2 522.0,315.4 522.9,315.5 523.9,315.6 524.8,315.7 525.8,315.8 526.7,315.9 527.7,316.1 528.6,316.2 529.5,316.3 530.5,316.4 531.4,316.5" fill="none" stroke="#000" stroke-width="1.1"/>
<polyline points="83.6,306.4 84.5,306.4 85.5,306.3 86.4,306.3 87.4,306.3 88.3,306.2 89.3,306.2 90.2,306.1 91.1,306.1 92.1,306.0 93.0,306.0 94.0,305.9 94.9,305.9 95.9,305.8 96.8,305.8 97.7,305.8 98.7,305.7 99.6,305.7 100.6,305.6 101.5,305.5 102.5,305.5 103.4,305.4 104.3,305.4 105.3,305.3 106.2,305.3 107.2,305.2 108.1,305.1 109.1,305.0 110.0,305.0 110.9,304.9 111.9,304.8 112.8,304.7 113.8,304.6 114.7,304.5 115.7,304.4 116.6,304.3 117.5,304.1 118.5,304.0 119.4,303.9 120.4,303.7 121.3,303.5 122.3,303.3 123.2,303.1 124.1,302.9 125.1,302.6 126.0,302.3 127.0,302.0 127.9,301.7 128.9,301.4 129.8,301.1 130.7,300.7 131.7,300.4 132.6,300.0 133.6,299.6 134.5,299.3 135.5,298.9 136.4,298.6 137.3,298.2 138.3,297.9 139.2,297.6 140.2,297.3 141.1,297.0 142.1,296.7 143.0,296.4 143.9,296.1 144.9,295.9 145.8,295.6 146.8,295.3 147.7,295.0 148.7,294.7 149.6,294.4 150.5,294.1 151.5,293.8 152.4,293.4 153.4,293.0 154.3,292.7 155.3,292.3 156.2,291.9 157.1,291.5 158.1,291.1 159.0,290.8 160.0,290.4 160.9,290.0 161.9,289.6 162.8,289.2 163.7,288.9 164.7,288.5 165.6,288.1 166.6,287.7 167.5,287.4 168.5,287.0 169.4,286.7 170.3,286.3 171.3,286.0 172.2,285.6 173.2,285.3 174.1,285.0 175.1,284.6 176.0,284.3 176.9,284.0 177.9,283.7 178.8,283.4 179.8,283.1 180.7,282.7 181.7,282.4 182.6,282.1 183.5,281.8 184.5,281.5 185.4,281.2 186.4,280.8 187.3,280.5 188.3,280.2 189.2,279.8 190.1,279.5 191.1,279.2 192.0,278.8 193.0,278.5 193.9,278.2 194.9,277.8 195.8,277.5 196.7,277.1 197.7,276.7 198.6,276.2 199.6,275.7 200.5,275.0 201.4,274.4 202.4,273.7 203.3,272.9 204.3,272.1 205.2,271.3 206.2,270.5 207.1,269.7 208.0,268.9 209.0,268.1 209.9,267.4 210.9,266.6 211.8,265.8 212.8,265.0 213.7,264.1 214.6,263.3 215.6,262.4 216.5,261.5 217.5,260.6 218.4,259.7 219.4,258.7 220.3,257.6 221.2,256.5 222.2,255.3 223.1,254.0 224.1,252.6 225.0,251.2 226.0,249.8 226.9,248.4 227.8,247.0 228.8,245.6 229.7,244.3 230.7,243.0 231.6,241.6 232.6,240.2 233.5,238.6 234.4,236.8 235.4,235.0 236.3,233.0 237.3,231.0 238.2,229.0 239.2,226.9 240.1,225.0 241.0,223.0 242.0,220.9 242.9,218.7 243.9,216.5 244.8,214.2 245.8,211.9 246.7,209.6 247.6,207.3 248.6,205.2 249.5,203.1 250.5,201.0 251.4,199.0 252.4,196.9 253.3,194.8 254.2,192.5 255.2,190.1 256.1,187.8 257.1,185.4 258.0,183.0 259.0,180.4 259.9,177.7 260.8,174.9 261.8,172.1 262.7,169.1 263.7,166.3 264.6,163.7 265.6,161.0 266.5,158.2 267.4,155.6 268.4,153.0 269.3,150.8 270.3,149.0 271.2,147.8 272.2,147.0 273.1,146.3 274.0,145.6 275.0,145.0 275.9,144.5 276.9,144.1 277.8,143.8 278.8,143.6 279.7,143.5 280.6,143.6 281.6,143.9 282.5,144.3 283.5,144.9 284.4,145.5 285.4,146.1 286.3,146.7 287.2,147.5 288.2,148.4 289.1,149.4 290.1,150.4 291.0,151.5 292.0,152.5 292.9,153.4 293.8,154.3 294.8,155.1 295.7,156.0 296.7,156.8 297.6,157.7 298.6,158.5 299.5,159.4 300.4,160.3 301.4,161.3 302.3,162.3 303.3,163.3 304.2,164.5 305.2,165.8 306.1,167.1 307.0,168.3 308.0,169.5 308.9,170.5 309.9,171.6 310.8,172.7 311.8,173.9 312.7,175.1 313.6,176.5 314.6,177.9 315.5,179.4 316.5,181.0 317.4,182.6 318.4,184.2 319.3,185.8 320.2,187.4 321.2,189.1 322.1,190.8 323.1,192.5 324.0,194.3 325.0,196.3 325.9,198.4 326.8,200.6 327.8,203.1 328.7,205.6 329.7,208.2 330.6,210.8 331.6,213.5 332.5,215.9 333.4,218.3 334.4,220.6 335.3,222.7 336.3,224.7 337.2,226.6 338.2,228.5 339.1,230.4 340.0,232.2 341.0,234.0 341.9,235.9 342.9,237.7 343.8,239.5 344.8,241.4 345.7,243.2 346.6,244.9 347.6,246.7 348.5,248.4 349.5,250.2 350.4,251.8 351.4,253.5 352.3,255.1 353.2,256.6 354.2,258.1 355.1,259.5 356.1,260.9 357.0,262.2 358.0,263.5 358.9,264.8 359.8,266.0 360.8,267.3 361.7,268.6 362.7,269.9 363.6,271.3 364.6,272.6 365.5,273.9 366.4,275.2 367.4,276.5 368.3,277.7 369.3,278.9 370.2,280.1 371.2,281.2 372.1,282.2 373.0,283.2 374.0,284.2 374.9,285.1 375.9,285.9 376.8,286.8 377.8,287.6 378.7,288.3 379.6,289.1 380.6,289.8 381.5,290.5 382.5,291.2 383.4,291.8 384.4,292.5 385.3,293.1 386.2,293.7 387.2,294.3 388.1,294.8 389.1,295.4 390.0,295.9 391.0,296.4 391.9,296.9 392.8,297.4 393.8,297.9 394.7,298.3 395.7,298.8 396.6,299.2 397.6,299.6 398.5,300.1 399.4,300.5 400.4,300.9 401.3,301.2 402.3,301.6 403.2,302.0 404.2,302.3 405.1,302.6 406.0,302.9 407.0,303.2 407.9,303.5 408.9,303.7 409.8,304.0 410.8,304.2 411.7,304.4 412.6,304.6 413.6,304.8 414.5,305.0 415.5,305.2 416.4,305.3 417.4,305.5 418.3,305.7 419.2,305.9 420.2,306.0 421.1,306.2 422.1,306.4 423.0,306.5 423.9,306.7 424.9,306.9 425.8,307.0 426.8,307.1 427.7,307.3 428.7,307.4 429.6,307.5 430.5,307.7 431.5,307.8 432.4,307.9 433.4,308.0 434.3,308.0 435.3,308.1 436.2,308.2 437.1,308.3 438.1,308.3 439.0,308.4 440.0,308.5 440.9,308.5 441.9,308.6 442.8,308.6 443.7,308.7 444.7,308.7 445.6,308.8 446.6,308.8 447.5,308.9 448.5,308.9 449.4,309.0 450.3,309.0 451.3,309.0 452.2,309.1 453.2,309.1 454.1,309.2 455.1,309.2 456.0,309.3 456.9,309.3 457.9,309.4 458.8,309.4 459.8,309.4 460.7,309.5 461.7,309.5 462.6,309.6 463.5,309.6 464.5,309.7 465.4,309.7 466.4,309.8 467.3,309.8 468.3,309.9 469.2,309.9 470.1,310.0 471.1,310.0 472.0,310.1 473.0,310.1 473.9,310.2 474.9,310.2 475.8,310.3 476.7,310.4 477.7,310.4 478.6,310.5 479.6,310.5 480.5,310.6 481.5,310.7 482.4,310.8 483.3,310.8 484.3,310.9 485.2,311.0 486.2,311.0 487.1,311.1 488.1,311.2 489.0,311.3 489.9,311.4 490.9,311.5 491.8,311.5 492.8,311.6 493.7,311.7 494.7,311.8 495.6,311.9 496.5,312.0 497.5,312.1 498.4,312.2 499.4,312.3 500.3,312.4 501.3,312.5 502.2,312.6 503.1,312.8 504.1,312.9 505.0,313.0 506.0,313.1 506.9,313.2 507.9,313.3 508.8,313.5 509.7,313.6 510.7,313.7 511.6,313.8 512.6,314.0 513.5,314.1 514.5,314.2 515.4,314.3 516.3,314.5 517.3,314.6 518.2,314.7 519.2,314.8 520.1,315.0 521.1,315.1 522.0,315.2 522.9,315.3 523.9,315.5 524.8,315.6 525.8,315.7 526.7,315.8 527.7,315.9 528.6,316.1 529.5,316.2 530.5,316.3 531.4,316.4" fill="none" stroke="#000" stroke-width="1.8" stroke-dasharray="1.8 2.6"/>
<polyline points="83.6,306.7 84.5,306.7 85.5,306.7 86.4,306.6 87.4,306.6 88.3,306.6 89.3,306.5 90.2,306.5 91.1,306.5 92.1,306.4 93.0,306.4 94.0,306.4 94.9,306.3 95.9,306.3 96.8,306.3 97.7,306.2 98.7,306.2 99.6,306.1 100.6,306.1 101.5,306.0 102.5,306.0 103.4,306.0 104.3,305.9 105.3,305.9 106.2,305.8 107.2,305.8 108.1,305.7 109.1,305.6 110.0,305.6 110.9,305.5 111.9,305.4 112.8,305.4 113.8,305.3 114.7,305.2 115.7,305.1 116.6,305.1 117.5,305.0 118.5,304.9 119.4,304.8 120.4,304.6 121.3,304.5 122.3,304.3 123.2,304.2 124.1,304.0 125.1,303.8 126.0,303.5 127.0,303.3 127.9,303.0 128.9,302.7 129.8,302.4 130.7,302.0 131.7,301.7 132.6,301.3 133.6,300.9 134.5,300.6 135.5,300.2 136.4,299.9 137.3,299.6 138.3,299.3 139.2,299.0 140.2,298.7 141.1,298.4 142.1,298.2 143.0,297.9 143.9,297.7 144.9,297.4 145.8,297.2 146.8,297.0 147.7,296.7 148.7,296.4 149.6,296.2 150.5,295.9 151.5,295.6 152.4,295.2 153.4,294.9 154.3,294.6 155.3,294.2 156.2,293.8 157.1,293.5 158.1,293.1 159.0,292.8 160.0,292.4 160.9,292.0 161.9,291.7 162.8,291.3 163.7,290.9 164.7,290.5 165.6,290.2 166.6,289.8 167.5,289.4 168.5,289.1 169.4,288.7 170.3,288.4 171.3,288.0 172.2,287.7 173.2,287.3 174.1,287.0 175.1,286.6 176.0,286.3 176.9,286.0 177.9,285.7 178.8,285.3 179.8,285.0 180.7,284.7 181.7,284.4 182.6,284.1 183.5,283.8 184.5,283.4 185.4,283.1 186.4,282.8 187.3,282.5 188.3,282.1 189.2,281.8 190.1,281.5 191.1,281.1 192.0,280.8 193.0,280.5 193.9,280.2 194.9,279.8 195.8,279.5 196.7,279.1 197.7,278.6 198.6,278.2 199.6,277.6 200.5,277.1 201.4,276.4 202.4,275.7 203.3,275.0 204.3,274.3 205.2,273.5 206.2,272.8 207.1,272.0 208.0,271.3 209.0,270.6 209.9,269.8 210.9,269.1 211.8,268.3 212.8,267.6 213.7,266.8 214.6,266.0 215.6,265.2 216.5,264.4 217.5,263.6 218.4,262.7 219.4,261.8 220.3,260.9 221.2,259.9 222.2,258.8 223.1,257.7 224.1,256.5 225.0,255.3 226.0,254.1 226.9,252.8 227.8,251.6 228.8,250.5 229.7,249.4 230.7,248.2 231.6,247.1 232.6,245.9 233.5,244.6 234.4,243.1 235.4,241.5 236.3,239.9 237.3,238.3 238.2,236.6 239.2,234.9 240.1,233.2 241.0,231.5 242.0,229.8 242.9,228.0 243.9,226.2 244.8,224.3 245.8,222.4 246.7,220.5 247.6,218.6 248.6,216.8 249.5,215.0 250.5,213.3 251.4,211.6 252.4,209.9 253.3,208.1 254.2,206.1 255.2,204.1 256.1,202.1 257.1,200.0 258.0,197.9 259.0,195.5 259.9,192.9 260.8,190.4 261.8,188.1 262.7,186.1 263.7,184.2 264.6,182.4 265.6,180.7 266.5,179.0 267.4,177.4 268.4,175.7 269.3,174.0 270.3,172.2 271.2,170.4 272.2,168.2 273.1,165.7 274.0,163.4 275.0,162.0 275.9,161.3 276.9,160.6 277.8,160.1 278.8,159.7 279.7,159.5 280.6,159.5 281.6,159.4 282.5,159.4 283.5,159.4 284.4,159.3 285.4,159.3 286.3,159.3 287.2,159.3 288.2,159.3 289.1,159.3 290.1,159.4 291.0,159.4 292.0,159.4 292.9,159.5 293.8,159.6 294.8,159.7 295.7,159.9 296.7,160.2 297.6,160.5 298.6,160.8 299.5,161.2 300.4,161.6 301.4,162.0 302.3,162.4 303.3,162.9 304.2,163.4 305.2,164.1 306.1,164.8 307.0,165.5 308.0,166.2 308.9,166.9 309.9,167.6 310.8,168.4 311.8,169.3 312.7,170.3 313.6,171.4 314.6,172.6 315.5,173.9 316.5,175.3 317.4,176.8 318.4,178.3 319.3,179.7 320.2,181.2 321.2,182.8 322.1,184.3 323.1,186.0 324.0,187.7 325.0,189.5 325.9,191.5 326.8,193.6 327.8,195.9 328.7,198.4 329.7,200.8 330.6,203.4 331.6,206.0 332.5,208.4 333.4,210.8 334.4,213.1 335.3,215.3 336.3,217.4 337.2,219.4 338.2,221.4 339.1,223.3 340.0,225.2 341.0,227.2 341.9,229.1 342.9,231.0 343.8,232.9 344.8,234.8 345.7,236.7 346.6,238.6 347.6,240.4 348.5,242.3 349.5,244.1 350.4,245.9 351.4,247.7 352.3,249.4 353.2,251.1 354.2,252.7 355.1,254.2 356.1,255.7 357.0,257.2 358.0,258.6 358.9,260.0 359.8,261.4 360.8,262.8 361.7,264.2 362.7,265.6 363.6,267.1 364.6,268.5 365.5,270.0 366.4,271.4 367.4,272.8 368.3,274.1 369.3,275.4 370.2,276.7 371.2,277.9 372.1,279.1 373.0,280.2 374.0,281.2 374.9,282.2 375.9,283.2 376.8,284.1 377.8,285.0 378.7,285.8 379.6,286.6 380.6,287.4 381.5,288.2 382.5,289.0 383.4,289.7 384.4,290.4 385.3,291.1 386.2,291.7 387.2,292.3 388.1,293.0 389.1,293.6 390.0,294.2 391.0,294.7 391.9,295.3 392.8,295.8 393.8,296.3 394.7,296.9 395.7,297.4 396.6,297.8 397.6,298.3 398.5,298.8 399.4,299.2 400.4,299.7 401.3,300.1 402.3,300.5 403.2,300.8 404.2,301.2 405.1,301.5 406.0,301.9 407.0,302.2 407.9,302.5 408.9,302.7 409.8,303.0 410.8,303.2 411.7,303.4 412.6,303.6 413.6,303.8 414.5,304.0 415.5,304.2 416.4,304.4 417.4,304.6 418.3,304.8 419.2,305.0 420.2,305.2 421.1,305.4 422.1,305.6 423.0,305.8 423.9,306.0 424.9,306.2 425.8,306.3 426.8,306.5 427.7,306.7 428.7,306.8 429.6,306.9 430.5,307.1 431.5,307.2 432.4,307.3 433.4,307.4 434.3,307.5 435.3,307.6 436.2,307.7 437.1,307.8 438.1,307.9 439.0,307.9 440.0,308.0 440.9,308.1 441.9,308.1 442.8,308.2 443.7,308.3 444.7,308.3 445.6,308.4 446.6,308.4 447.5,308.5 448.5,308.5 449.4,308.6 450.3,308.6 451.3,308.7 452.2,308.7 453.2,308.8 454.1,308.8 455.1,308.9 456.0,308.9 456.9,309.0 457.9,309.0 458.8,309.1 459.8,309.1 460.7,309.2 461.7,309.2 462.6,309.3 463.5,309.3 464.5,309.4 465.4,309.4 466.4,309.5 467.3,309.5 468.3,309.6 469.2,309.6 470.1,309.7 471.1,309.7 472.0,309.8 473.0,309.8 473.9,309.9 474.9,310.0 475.8,310.0 476.7,310.1 477.7,310.2 478.6,310.2 479.6,310.3 480.5,310.4 481.5,310.4 482.4,310.5 483.3,310.6 484.3,310.6 485.2,310.7 486.2,310.8 487.1,310.9 488.1,311.0 489.0,311.0 489.9,311.1 490.9,311.2 491.8,311.3 492.8,311.4 493.7,311.5 494.7,311.6 495.6,311.7 496.5,311.8 497.5,311.9 498.4,312.0 499.4,312.1 500.3,312.2 501.3,312.3 502.2,312.4 503.1,312.6 504.1,312.7 505.0,312.8 506.0,312.9 506.9,313.0 507.9,313.2 508.8,313.3 509.7,313.4 510.7,313.5 511.6,313.7 512.6,313.8 513.5,313.9 514.5,314.1 515.4,314.2 516.3,314.3 517.3,314.5 518.2,314.6 519.2,314.7 520.1,314.8 521.1,315.0 522.0,315.1 522.9,315.2 523.9,315.4 524.8,315.5 525.8,315.6 526.7,315.7 527.7,315.8 528.6,316.0 529.5,316.1 530.5,316.2 531.4,316.3" fill="none" stroke="#000" stroke-width="1.5"/>
<polyline points="83.6,307.1 84.5,307.1 85.5,307.1 86.4,307.1 87.4,307.1 88.3,307.0 89.3,307.0 90.2,307.0 91.1,307.0 92.1,307.0 93.0,307.0 94.0,306.9 94.9,306.9 95.9,306.9 96.8,306.9 97.7,306.9 98.7,306.8 99.6,306.8 100.6,306.8 101.5,306.8 102.5,306.7 103.4,306.7 104.3,306.6 105.3,306.6 106.2,306.6 107.2,306.5 108.1,306.5 109.1,306.5 110.0,306.4 110.9,306.4 111.9,306.3 112.8,306.3 113.8,306.3 114.7,306.2 115.7,306.2 116.6,306.2 117.5,306.1 118.5,306.1 119.4,306.0 120.4,306.0 121.3,305.9 122.3,305.8 123.2,305.7 124.1,305.6 125.1,305.4 126.0,305.2 127.0,305.0 127.9,304.7 128.9,304.5 129.8,304.1 130.7,303.8 131.7,303.5 132.6,303.1 133.6,302.7 134.5,302.4 135.5,302.0 136.4,301.7 137.3,301.4 138.3,301.1 139.2,300.9 140.2,300.7 141.1,300.4 142.1,300.2 143.0,300.0 143.9,299.8 144.9,299.6 145.8,299.4 146.8,299.2 147.7,299.0 148.7,298.8 149.6,298.6 150.5,298.3 151.5,298.1 152.4,297.8 153.4,297.5 154.3,297.2 155.3,296.9 156.2,296.6 157.1,296.2 158.1,295.9 159.0,295.6 160.0,295.2 160.9,294.9 161.9,294.5 162.8,294.1 163.7,293.8 164.7,293.4 165.6,293.1 166.6,292.7 167.5,292.3 168.5,291.9 169.4,291.6 170.3,291.2 171.3,290.9 172.2,290.5 173.2,290.2 174.1,289.8 175.1,289.5 176.0,289.1 176.9,288.8 177.9,288.4 178.8,288.1 179.8,287.8 180.7,287.5 181.7,287.1 182.6,286.8 183.5,286.5 184.5,286.2 185.4,285.9 186.4,285.5 187.3,285.2 188.3,284.9 189.2,284.6 190.1,284.3 191.1,283.9 192.0,283.6 193.0,283.3 193.9,282.9 194.9,282.6 195.8,282.2 196.7,281.8 197.7,281.4 198.6,280.9 199.6,280.4 200.5,279.9 201.4,279.3 202.4,278.7 203.3,278.0 204.3,277.4 205.2,276.7 206.2,276.0 207.1,275.3 208.0,274.6 209.0,273.9 209.9,273.3 210.9,272.6 211.8,271.9 212.8,271.2 213.7,270.5 214.6,269.9 215.6,269.2 216.5,268.4 217.5,267.7 218.4,267.0 219.4,266.2 220.3,265.4 221.2,264.6 222.2,263.7 223.1,262.8 224.1,261.9 225.0,260.9 226.0,260.0 226.9,259.1 227.8,258.2 228.8,257.3 229.7,256.5 230.7,255.7 231.6,254.8 232.6,253.9 233.5,252.9 234.4,251.9 235.4,250.8 236.3,249.6 237.3,248.4 238.2,247.2 239.2,246.0 240.1,244.8 241.0,243.6 242.0,242.3 242.9,241.0 243.9,239.7 244.8,238.4 245.8,237.0 246.7,235.7 247.6,234.4 248.6,233.1 249.5,231.8 250.5,230.5 251.4,229.3 252.4,228.0 253.3,226.7 254.2,225.3 255.2,223.7 256.1,222.1 257.1,220.4 258.0,218.6 259.0,216.7 259.9,214.6 260.8,212.4 261.8,210.1 262.7,207.9 263.7,205.7 264.6,203.6 265.6,201.6 266.5,199.8 267.4,198.1 268.4,196.5 269.3,194.9 270.3,193.3 271.2,191.7 272.2,190.1 273.1,188.4 274.0,186.8 275.0,185.3 275.9,183.8 276.9,182.3 277.8,181.0 278.8,179.7 279.7,178.4 280.6,177.3 281.6,176.2 282.5,175.1 283.5,174.1 284.4,173.2 285.4,172.4 286.3,171.6 287.2,170.8 288.2,170.1 289.1,169.5 290.1,169.0 291.0,168.5 292.0,168.0 292.9,167.5 293.8,166.9 294.8,166.2 295.7,165.5 296.7,164.7 297.6,164.0 298.6,163.4 299.5,163.0 300.4,162.7 301.4,162.6 302.3,162.4 303.3,162.2 304.2,161.9 305.2,161.7 306.1,161.6 307.0,161.6 308.0,161.6 308.9,161.7 309.9,162.0 310.8,162.4 311.8,162.9 312.7,163.5 313.6,164.2 314.6,165.2 315.5,166.2 316.5,167.4 317.4,168.6 318.4,169.9 319.3,171.3 320.2,172.6 321.2,173.9 322.1,175.3 323.1,176.8 324.0,178.4 325.0,180.0 325.9,181.8 326.8,183.8 327.8,185.9 328.7,188.2 329.7,190.6 330.6,193.0 331.6,195.4 332.5,197.9 333.4,200.3 334.4,202.6 335.3,204.9 336.3,207.1 337.2,209.3 338.2,211.4 339.1,213.5 340.0,215.5 341.0,217.6 341.9,219.6 342.9,221.6 343.8,223.6 344.8,225.7 345.7,227.7 346.6,229.7 347.6,231.7 348.5,233.7 349.5,235.6 350.4,237.6 351.4,239.5 352.3,241.4 353.2,243.3 354.2,245.1 355.1,246.8 356.1,248.5 357.0,250.1 358.0,251.7 358.9,253.3 359.8,254.8 360.8,256.4 361.7,257.9 362.7,259.5 363.6,261.2 364.6,262.8 365.5,264.4 366.4,266.0 367.4,267.5 368.3,269.1 369.3,270.6 370.2,272.0 371.2,273.4 372.1,274.7 373.0,276.0 374.0,277.1 374.9,278.3 375.9,279.4 376.8,280.4 377.8,281.4 378.7,282.3 379.6,283.2 380.6,284.1 381.5,285.0 382.5,285.8 383.4,286.7 384.4,287.4 385.3,288.2 386.2,289.0 387.2,289.7 388.1,290.4 389.1,291.1 390.0,291.7 391.0,292.4 391.9,293.0 392.8,293.6 393.8,294.2 394.7,294.8 395.7,295.4 396.6,295.9 397.6,296.5 398.5,297.0 399.4,297.5 400.4,298.0 401.3,298.4 402.3,298.9 403.2,299.3 404.2,299.7 405.1,300.1 406.0,300.4 407.0,300.7 407.9,301.1 408.9,301.4 409.8,301.6 410.8,301.9 411.7,302.1 412.6,302.3 413.6,302.5 414.5,302.7 415.5,303.0 416.4,303.2 417.4,303.4 418.3,303.6 419.2,303.9 420.2,304.1 421.1,304.3 422.1,304.5 423.0,304.8 423.9,305.0 424.9,305.2 425.8,305.4 426.8,305.6 427.7,305.8 428.7,306.0 429.6,306.1 430.5,306.3 431.5,306.4 432.4,306.6 433.4,306.7 434.3,306.8 435.3,306.9 436.2,307.0 437.1,307.1 438.1,307.2 439.0,307.3 440.0,307.4 440.9,307.5 441.9,307.5 442.8,307.6 443.7,307.7 444.7,307.7 445.6,307.8 446.6,307.8 447.5,307.9 448.5,308.0 449.4,308.0 450.3,308.1 451.3,308.1 452.2,308.2 453.2,308.2 454.1,308.3 455.1,308.4 456.0,308.4 456.9,308.5 457.9,308.5 458.8,308.6 459.8,308.6 460.7,308.7 461.7,308.8 462.6,308.8 463.5,308.9 464.5,308.9 465.4,309.0 466.4,309.0 467.3,309.1 468.3,309.2 469.2,309.2 470.1,309.3 471.1,309.3 472.0,309.4 473.0,309.5 473.9,309.5 474.9,309.6 475.8,309.7 476.7,309.7 477.7,309.8 478.6,309.9 479.6,309.9 480.5,310.0 481.5,310.1 482.4,310.1 483.3,310.2 484.3,310.3 485.2,310.4 486.2,310.5 487.1,310.5 488.1,310.6 489.0,310.7 489.9,310.8 490.9,310.9 491.8,311.0 492.8,311.1 493.7,311.2 494.7,311.3 495.6,311.4 496.5,311.5 497.5,311.6 498.4,311.7 499.4,311.8 500.3,311.9 501.3,312.0 502.2,312.2 503.1,312.3 504.1,312.4 505.0,312.5 506.0,312.7 506.9,312.8 507.9,312.9 508.8,313.0 509.7,313.2 510.7,313.3 511.6,313.4 512.6,313.6 513.5,313.7 514.5,313.9 515.4,314.0 516.3,314.1 517.3,314.3 518.2,314.4 519.2,314.5 520.1,314.7 521.1,314.8 522.0,314.9 522.9,315.1 523.9,315.2 524.8,315.3 525.8,315.5 526.7,315.6 527.7,315.7 528.6,315.8 529.5,316.0 530.5,316.1 531.4,316.2" fill="none" stroke="#000" stroke-width="1.5"/>
<polyline points="83.6,307.4 84.5,307.4 85.5,307.4 86.4,307.4 87.4,307.4 88.3,307.4 89.3,307.4 90.2,307.4 91.1,307.4 92.1,307.4 93.0,307.4 94.0,307.4 94.9,307.4 95.9,307.4 96.8,307.3 97.7,307.3 98.7,307.3 99.6,307.3 100.6,307.3 101.5,307.3 102.5,307.2 103.4,307.2 104.3,307.2 105.3,307.2 106.2,307.1 107.2,307.1 108.1,307.1 109.1,307.1 110.0,307.0 110.9,307.0 111.9,307.0 112.8,307.0 113.8,307.0 114.7,307.0 115.7,307.0 116.6,307.0 117.5,307.0 118.5,307.0 119.4,306.9 120.4,306.9 121.3,306.9 122.3,306.8 123.2,306.8 124.1,306.7 125.1,306.6 126.0,306.4 127.0,306.2 127.9,306.0 128.9,305.7 129.8,305.4 130.7,305.1 131.7,304.7 132.6,304.4 133.6,304.0 134.5,303.7 135.5,303.3 136.4,303.0 137.3,302.7 138.3,302.5 139.2,302.3 140.2,302.1 141.1,301.9 142.1,301.7 143.0,301.5 143.9,301.4 144.9,301.2 145.8,301.0 146.8,300.9 147.7,300.7 148.7,300.5 149.6,300.3 150.5,300.1 151.5,299.9 152.4,299.6 153.4,299.4 154.3,299.1 155.3,298.8 156.2,298.5 157.1,298.2 158.1,297.9 159.0,297.6 160.0,297.2 160.9,296.9 161.9,296.5 162.8,296.2 163.7,295.8 164.7,295.5 165.6,295.1 166.6,294.7 167.5,294.4 168.5,294.0 169.4,293.6 170.3,293.3 171.3,292.9 172.2,292.5 173.2,292.2 174.1,291.8 175.1,291.5 176.0,291.1 176.9,290.8 177.9,290.4 178.8,290.1 179.8,289.8 180.7,289.4 181.7,289.1 182.6,288.8 183.5,288.4 184.5,288.1 185.4,287.8 186.4,287.5 187.3,287.2 188.3,286.9 189.2,286.6 190.1,286.3 191.1,285.9 192.0,285.6 193.0,285.3 193.9,284.9 194.9,284.6 195.8,284.2 196.7,283.8 197.7,283.4 198.6,282.9 199.6,282.4 200.5,281.9 201.4,281.3 202.4,280.8 203.3,280.2 204.3,279.5 205.2,278.9 206.2,278.3 207.1,277.6 208.0,277.0 209.0,276.3 209.9,275.7 210.9,275.1 211.8,274.5 212.8,273.8 213.7,273.2 214.6,272.6 215.6,272.0 216.5,271.3 217.5,270.7 218.4,270.0 219.4,269.3 220.3,268.7 221.2,267.9 222.2,267.2 223.1,266.5 224.1,265.7 225.0,265.0 226.0,264.3 226.9,263.6 227.8,262.9 228.8,262.2 229.7,261.6 230.7,260.9 231.6,260.3 232.6,259.6 233.5,258.9 234.4,258.1 235.4,257.3 236.3,256.5 237.3,255.7 238.2,254.8 239.2,254.0 240.1,253.1 241.0,252.2 242.0,251.3 242.9,250.4 243.9,249.4 244.8,248.5 245.8,247.5 246.7,246.6 247.6,245.6 248.6,244.7 249.5,243.7 250.5,242.8 251.4,241.9 252.4,241.0 253.3,240.0 254.2,238.9 255.2,237.7 256.1,236.5 257.1,235.1 258.0,233.5 259.0,231.8 259.9,230.0 260.8,228.0 261.8,226.0 262.7,224.0 263.7,222.1 264.6,220.2 265.6,218.5 266.5,216.9 267.4,215.3 268.4,213.8 269.3,212.3 270.3,210.7 271.2,209.1 272.2,207.4 273.1,205.7 274.0,203.9 275.0,202.1 275.9,200.3 276.9,198.6 277.8,196.9 278.8,195.2 279.7,193.6 280.6,192.1 281.6,190.6 282.5,189.2 283.5,187.8 284.4,186.4 285.4,185.2 286.3,183.9 287.2,182.6 288.2,181.4 289.1,180.2 290.1,179.0 291.0,177.8 292.0,176.6 292.9,175.3 293.8,173.9 294.8,172.6 295.7,171.2 296.7,169.8 297.6,168.4 298.6,167.2 299.5,166.0 300.4,164.9 301.4,163.8 302.3,162.8 303.3,161.8 304.2,160.8 305.2,160.0 306.1,159.3 307.0,158.7 308.0,158.3 308.9,158.1 309.9,158.0 310.8,158.1 311.8,158.3 312.7,158.6 313.6,159.2 314.6,159.9 315.5,160.7 316.5,161.7 317.4,162.8 318.4,164.0 319.3,165.2 320.2,166.4 321.2,167.6 322.1,168.9 323.1,170.3 324.0,171.7 325.0,173.3 325.9,175.0 326.8,176.8 327.8,178.8 328.7,180.9 329.7,183.2 330.6,185.6 331.6,188.0 332.5,190.4 333.4,192.7 334.4,195.1 335.3,197.5 336.3,199.8 337.2,202.0 338.2,204.2 339.1,206.4 340.0,208.6 341.0,210.7 341.9,212.8 342.9,214.9 343.8,217.0 344.8,219.1 345.7,221.2 346.6,223.3 347.6,225.4 348.5,227.5 349.5,229.6 350.4,231.7 351.4,233.7 352.3,235.8 353.2,237.8 354.2,239.7 355.1,241.6 356.1,243.4 357.0,245.1 358.0,246.8 358.9,248.5 359.8,250.1 360.8,251.8 361.7,253.5 362.7,255.2 363.6,256.9 364.6,258.7 365.5,260.4 366.4,262.1 367.4,263.8 368.3,265.5 369.3,267.1 370.2,268.6 371.2,270.1 372.1,271.6 373.0,272.9 374.0,274.2 374.9,275.4 375.9,276.6 376.8,277.7 377.8,278.8 378.7,279.8 379.6,280.8 380.6,281.8 381.5,282.7 382.5,283.6 383.4,284.5 384.4,285.3 385.3,286.2 386.2,287.0 387.2,287.8 388.1,288.5 389.1,289.3 390.0,290.0 391.0,290.7 391.9,291.4 392.8,292.1 393.8,292.7 394.7,293.4 395.7,294.0 396.6,294.6 397.6,295.1 398.5,295.7 399.4,296.2 400.4,296.8 401.3,297.2 402.3,297.7 403.2,298.2 404.2,298.6 405.1,299.0 406.0,299.4 407.0,299.7 407.9,300.1 408.9,300.4 409.8,300.6 410.8,300.9 411.7,301.1 412.6,301.4 413.6,301.6 414.5,301.8 415.5,302.1 416.4,302.3 417.4,302.5 418.3,302.8 419.2,303.0 420.2,303.3 421.1,303.5 422.1,303.8 423.0,304.0 423.9,304.3 424.9,304.5 425.8,304.7 426.8,304.9 427.7,305.2 428.7,305.4 429.6,305.5 430.5,305.7 431.5,305.9 432.4,306.0 433.4,306.2 434.3,306.3 435.3,306.4 436.2,306.5 437.1,306.7 438.1,306.8 439.0,306.8 440.0,306.9 440.9,307.0 441.9,307.1 442.8,307.2 443.7,307.2 444.7,307.3 445.6,307.4 446.6,307.4 447.5,307.5 448.5,307.6 449.4,307.6 450.3,307.7 451.3,307.8 452.2,307.8 453.2,307.9 454.1,307.9 455.1,308.0 456.0,308.1 456.9,308.1 457.9,308.2 458.8,308.2 459.8,308.3 460.7,308.4 461.7,308.4 462.6,308.5 463.5,308.5 464.5,308.6 465.4,308.7 466.4,308.7 467.3,308.8 468.3,308.9 469.2,308.9 470.1,309.0 471.1,309.1 472.0,309.1 473.0,309.2 473.9,309.2 474.9,309.3 475.8,309.4 476.7,309.5 477.7,309.5 478.6,309.6 479.6,309.7 480.5,309.7 481.5,309.8 482.4,309.9 483.3,310.0 484.3,310.1 485.2,310.1 486.2,310.2 487.1,310.3 488.1,310.4 489.0,310.5 489.9,310.6 490.9,310.7 491.8,310.8 492.8,310.9 493.7,311.0 494.7,311.1 495.6,311.2 496.5,311.3 497.5,311.4 498.4,311.5 499.4,311.6 500.3,311.7 501.3,311.8 502.2,312.0 503.1,312.1 504.1,312.2 505.0,312.3 506.0,312.5 506.9,312.6 507.9,312.7 508.8,312.9 509.7,313.0 510.7,313.1 511.6,313.3 512.6,313.4 513.5,313.6 514.5,313.7 515.4,313.8 516.3,314.0 517.3,314.1 518.2,314.3 519.2,314.4 520.1,314.5 521.1,314.7 522.0,314.8 522.9,314.9 523.9,315.1 524.8,315.2 525.8,315.4 526.7,315.5 527.7,315.6 528.6,315.7 529.5,315.9 530.5,316.0 531.4,316.1" fill="none" stroke="#000" stroke-width="1.1"/>
<polyline points="83.6,307.5 84.5,307.5 85.5,307.5 86.4,307.5 87.4,307.6 88.3,307.6 89.3,307.6 90.2,307.6 91.1,307.6 92.1,307.6 93.0,307.6 94.0,307.6 94.9,307.6 95.9,307.6 96.8,307.6 97.7,307.6 98.7,307.5 99.6,307.5 100.6,307.5 101.5,307.5 102.5,307.5 103.4,307.5 104.3,307.4 105.3,307.4 106.2,307.4 107.2,307.4 108.1,307.4 109.1,307.3 110.0,307.3 110.9,307.3 111.9,307.3 112.8,307.3 113.8,307.3 114.7,307.3 115.7,307.3 116.6,307.4 117.5,307.4 118.5,307.4 119.4,307.4 120.4,307.4 121.3,307.4 122.3,307.4 123.2,307.3 124.1,307.2 125.1,307.1 126.0,307.0 127.0,306.8 127.9,306.6 128.9,306.4 129.8,306.1 130.7,305.7 131.7,305.4 132.6,305.0 133.6,304.7 134.5,304.3 135.5,304.0 136.4,303.7 137.3,303.4 138.3,303.2 139.2,302.9 140.2,302.8 141.1,302.6 142.1,302.4 143.0,302.3 143.9,302.1 144.9,302.0 145.8,301.8 146.8,301.7 147.7,301.5 148.7,301.4 149.6,301.2 150.5,301.0 151.5,300.8 152.4,300.5 153.4,300.3 154.3,300.0 155.3,299.8 156.2,299.5 157.1,299.2 158.1,298.9 159.0,298.6 160.0,298.2 160.9,297.9 161.9,297.6 162.8,297.2 163.7,296.9 164.7,296.5 165.6,296.1 166.6,295.8 167.5,295.4 168.5,295.0 169.4,294.7 170.3,294.3 171.3,293.9 172.2,293.6 173.2,293.2 174.1,292.8 175.1,292.5 176.0,292.1 176.9,291.8 177.9,291.4 178.8,291.1 179.8,290.7 180.7,290.4 181.7,290.1 182.6,289.7 183.5,289.4 184.5,289.1 185.4,288.8 186.4,288.5 187.3,288.2 188.3,287.9 189.2,287.6 190.1,287.3 191.1,286.9 192.0,286.6 193.0,286.3 193.9,285.9 194.9,285.6 195.8,285.2 196.7,284.8 197.7,284.3 198.6,283.9 199.6,283.4 200.5,282.9 201.4,282.4 202.4,281.8 203.3,281.2 204.3,280.6 205.2,280.0 206.2,279.4 207.1,278.8 208.0,278.2 209.0,277.5 209.9,276.9 210.9,276.3 211.8,275.7 212.8,275.1 213.7,274.5 214.6,274.0 215.6,273.4 216.5,272.8 217.5,272.2 218.4,271.5 219.4,270.9 220.3,270.3 221.2,269.6 222.2,269.0 223.1,268.3 224.1,267.6 225.0,267.0 226.0,266.4 226.9,265.8 227.8,265.2 228.8,264.7 229.7,264.1 230.7,263.6 231.6,263.0 232.6,262.4 233.5,261.9 234.4,261.3 235.4,260.6 236.3,260.0 237.3,259.3 238.2,258.6 239.2,257.9 240.1,257.2 241.0,256.5 242.0,255.7 242.9,255.0 243.9,254.3 244.8,253.5 245.8,252.8 246.7,252.0 247.6,251.2 248.6,250.5 249.5,249.7 250.5,249.0 251.4,248.2 252.4,247.4 253.3,246.6 254.2,245.7 255.2,244.7 256.1,243.6 257.1,242.4 258.0,241.0 259.0,239.4 259.9,237.6 260.8,235.8 261.8,234.0 262.7,232.1 263.7,230.3 264.6,228.6 265.6,226.9 266.5,225.4 267.4,223.9 268.4,222.5 269.3,221.0 270.3,219.5 271.2,217.8 272.2,216.1 273.1,214.3 274.0,212.4 275.0,210.5 275.9,208.6 276.9,206.7 277.8,204.8 278.8,203.0 279.7,201.2 280.6,199.5 281.6,197.8 282.5,196.2 283.5,194.6 284.4,193.1 285.4,191.6 286.3,190.1 287.2,188.6 288.2,187.1 289.1,185.5 290.1,184.0 291.0,182.4 292.0,180.8 292.9,179.1 293.8,177.4 294.8,175.7 295.7,174.0 296.7,172.3 297.6,170.7 298.6,169.1 299.5,167.5 300.4,166.0 301.4,164.5 302.3,163.0 303.3,161.6 304.2,160.3 305.2,159.1 306.1,158.1 307.0,157.3 308.0,156.7 308.9,156.3 309.9,156.0 310.8,155.9 311.8,156.0 312.7,156.2 313.6,156.6 314.6,157.2 315.5,158.0 316.5,158.9 317.4,159.9 318.4,161.0 319.3,162.1 320.2,163.3 321.2,164.5 322.1,165.7 323.1,167.0 324.0,168.4 325.0,169.9 325.9,171.5 326.8,173.3 327.8,175.2 328.7,177.3 329.7,179.5 330.6,181.8 331.6,184.2 332.5,186.6 333.4,189.0 334.4,191.4 335.3,193.7 336.3,196.1 337.2,198.4 338.2,200.7 339.1,202.9 340.0,205.1 341.0,207.3 341.9,209.4 342.9,211.6 343.8,213.7 344.8,215.8 345.7,218.0 346.6,220.1 347.6,222.3 348.5,224.4 349.5,226.6 350.4,228.7 351.4,230.8 352.3,232.9 353.2,235.0 354.2,237.0 355.1,238.9 356.1,240.8 357.0,242.6 358.0,244.3 358.9,246.1 359.8,247.8 360.8,249.5 361.7,251.3 362.7,253.0 363.6,254.8 364.6,256.6 365.5,258.4 366.4,260.2 367.4,261.9 368.3,263.6 369.3,265.3 370.2,266.9 371.2,268.5 372.1,270.0 373.0,271.4 374.0,272.8 374.9,274.0 375.9,275.2 376.8,276.4 377.8,277.5 378.7,278.6 379.6,279.6 380.6,280.6 381.5,281.6 382.5,282.5 383.4,283.4 384.4,284.3 385.3,285.2 386.2,286.0 387.2,286.8 388.1,287.6 389.1,288.4 390.0,289.1 391.0,289.9 391.9,290.6 392.8,291.3 393.8,292.0 394.7,292.6 395.7,293.3 396.6,293.9 397.6,294.5 398.5,295.1 399.4,295.6 400.4,296.1 401.3,296.7 402.3,297.1 403.2,297.6 404.2,298.0 405.1,298.5 406.0,298.9 407.0,299.2 407.9,299.6 408.9,299.9 409.8,300.1 410.8,300.4 411.7,300.7 412.6,300.9 413.6,301.1 414.5,301.4 415.5,301.6 416.4,301.9 417.4,302.1 418.3,302.4 419.2,302.6 420.2,302.9 421.1,303.1 422.1,303.4 423.0,303.7 423.9,303.9 424.9,304.1 425.8,304.4 426.8,304.6 427.7,304.8 428.7,305.1 429.6,305.3 430.5,305.4 431.5,305.6 432.4,305.8 433.4,305.9 434.3,306.1 435.3,306.2 436.2,306.3 437.1,306.4 438.1,306.5 439.0,306.6 440.0,306.7 440.9,306.8 441.9,306.9 442.8,306.9 443.7,307.0 444.7,307.1 445.6,307.2 446.6,307.2 447.5,307.3 448.5,307.4 449.4,307.4 450.3,307.5 451.3,307.6 452.2,307.6 453.2,307.7 454.1,307.8 455.1,307.8 456.0,307.9 456.9,307.9 457.9,308.0 458.8,308.1 459.8,308.1 460.7,308.2 461.7,308.3 462.6,308.3 463.5,308.4 464.5,308.5 465.4,308.5 466.4,308.6 467.3,308.6 468.3,308.7 469.2,308.8 470.1,308.8 471.1,308.9 472.0,309.0 473.0,309.0 473.9,309.1 474.9,309.2 475.8,309.3 476.7,309.3 477.7,309.4 478.6,309.5 479.6,309.5 480.5,309.6 481.5,309.7 482.4,309.8 483.3,309.9 484.3,309.9 485.2,310.0 486.2,310.1 487.1,310.2 488.1,310.3 489.0,310.4 489.9,310.5 490.9,310.6 491.8,310.7 492.8,310.7 493.7,310.8 494.7,311.0 495.6,311.1 496.5,311.2 497.5,311.3 498.4,311.4 499.4,311.5 500.3,311.6 501.3,311.7 502.2,311.9 503.1,312.0 504.1,312.1 505.0,312.2 506.0,312.4 506.9,312.5 507.9,312.6 508.8,312.8 509.7,312.9 510.7,313.1 511.6,313.2 512.6,313.3 513.5,313.5 514.5,313.6 515.4,313.8 516.3,313.9 517.3,314.0 518.2,314.2 519.2,314.3 520.1,314.5 521.1,314.6 522.0,314.8 522.9,314.9 523.9,315.0 524.8,315.2 525.8,315.3 526.7,315.4 527.7,315.6 528.6,315.7 529.5,315.8 530.5,315.9 531.4,316.1" fill="none" stroke="#000" stroke-width="1.6"/>
</g>
<g>
<text x="71" y="29.3" text-anchor="end" transform="translate(0,29.3) scale(1,1.04) translate(0,-29.3)">0.7</text>
<text x="71" y="73.0" text-anchor="end" transform="translate(0,73.0) scale(1,1.04) translate(0,-73.0)">0.6</text>
<text x="71" y="116.6" text-anchor="end" transform="translate(0,116.6) scale(1,1.04) translate(0,-116.6)">0.5</text>
<text x="71" y="160.5" text-anchor="end" transform="translate(0,160.5) scale(1,1.04) translate(0,-160.5)">0.4</text>
<text x="71" y="204.3" text-anchor="end" transform="translate(0,204.3) scale(1,1.04) translate(0,-204.3)">0.3</text>
<text x="71" y="248.3" text-anchor="end" transform="translate(0,248.3) scale(1,1.04) translate(0,-248.3)">0.2</text>
<text x="60.43" y="292.2" text-anchor="end" transform="translate(0,292.2) scale(1,1.04) translate(0,-292.2)">0.</text>
<path transform="translate(60.43,292.2) scale(0.009277,-0.009277)" d="M845 0H565V1050Q400 900 182 840V1100Q300 1140 430 1240Q560 1340 605 1466H845Z"/>
<text x="71" y="336.2" text-anchor="end" transform="translate(0,336.2) scale(1,1.04) translate(0,-336.2)">0.0</text>
<text x="80.6" y="352.8" style="letter-spacing:0.6px" transform="translate(0,352.8) scale(1,1.04) translate(0,-352.8)">380</text>
<text x="175.6" y="352.8" style="letter-spacing:0.6px" transform="translate(0,352.8) scale(1,1.04) translate(0,-352.8)">400</text>
<text x="284.8" y="354.1" style="letter-spacing:0.6px" transform="translate(0,354.1) scale(1,1.04) translate(0,-354.1)">420</text>
<text x="403.5" y="350.9" style="letter-spacing:0.6px" transform="translate(0,350.9) scale(1,1.04) translate(0,-350.9)">440</text>
<text x="511.6" y="350.9" style="letter-spacing:0.6px" transform="translate(0,350.9) scale(1,1.04) translate(0,-350.9)">460</text>
<text x="246.2" y="391.6" style="letter-spacing:0.38px">Wavelength, nm</text>
<text x="206.4" y="23.3" style="letter-spacing:0.24px">TSPP, monomer</text>
<text x="297.5" y="56.9" transform="translate(0,56.9) scale(1,1.04) translate(0,-56.9)">4</text>
<path transform="translate(308.22,56.9) scale(0.009277,-0.009277)" d="M845 0H565V1050Q400 900 182 840V1100Q300 1140 430 1240Q560 1340 605 1466H845Z"/>
<text x="318.93" y="56.9" style="letter-spacing:0.15px;word-spacing:1.4px" transform="translate(0,56.9) scale(1,1.04) translate(0,-56.9)">4 nm</text>
<text x="328.5" y="130.8" style="letter-spacing:-0.12px">complex with DNA</text>
<text x="351.7" y="167.3" transform="translate(0,167.3) scale(1,1.04) translate(0,-167.3)">42</text>
<path transform="translate(372.83,167.3) scale(0.009277,-0.009277)" d="M845 0H565V1050Q400 900 182 840V1100Q300 1140 430 1240Q560 1340 605 1466H845Z"/>
<text x="383.40" y="167.3" xml:space="preserve" transform="translate(0,167.3) scale(1,1.04) translate(0,-167.3)"> nm</text>
<text transform="translate(20,104.6) rotate(-90)" style="letter-spacing:0.3px">A, a.u.</text>
</g>
</svg>
</body></html>
